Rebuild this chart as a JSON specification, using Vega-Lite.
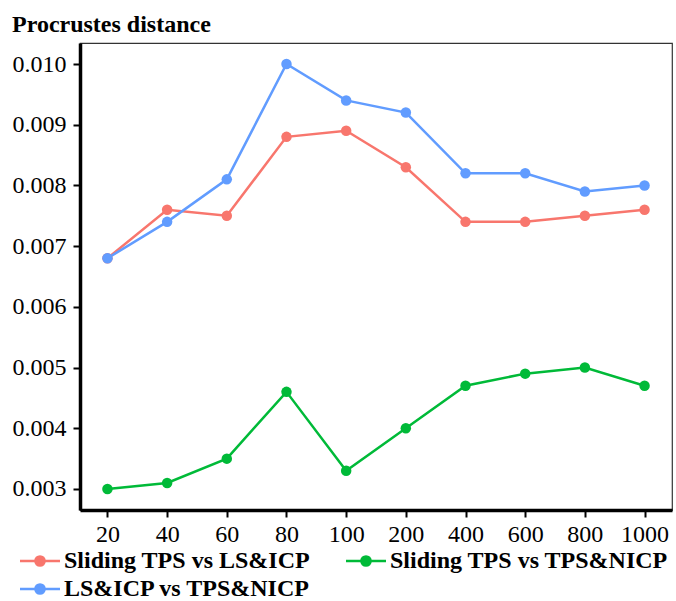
{
  "$schema": "https://vega.github.io/schema/vega-lite/v6.json",
  "width": 592,
  "height": 467,
  "autosize": "none",
  "padding": {"left": 80, "top": 43, "right": 4, "bottom": 91},
  "background": "white",
  "title": {
    "text": "Procrustes distance",
    "anchor": "start",
    "frame": "group",
    "dx": -68,
    "offset": 6,
    "font": "Liberation Serif",
    "fontSize": 24,
    "fontWeight": "bold",
    "color": "black"
  },
  "config": {
    "view": {"stroke": "#333333", "strokeWidth": 1.2},
    "axis": {
      "grid": false,
      "domainColor": "black",
      "domainWidth": 3.5,
      "tickColor": "black",
      "tickWidth": 2,
      "tickSize": 7,
      "labelFont": "Liberation Serif",
      "labelFontSize": 24,
      "labelColor": "black",
      "title": null
    }
  },
  "data": {
    "values": [
      {"n": "20", "s": "Sliding TPS vs LS&ICP", "v": 0.0068},
      {"n": "40", "s": "Sliding TPS vs LS&ICP", "v": 0.0076},
      {"n": "60", "s": "Sliding TPS vs LS&ICP", "v": 0.0075},
      {"n": "80", "s": "Sliding TPS vs LS&ICP", "v": 0.0088},
      {"n": "100", "s": "Sliding TPS vs LS&ICP", "v": 0.0089},
      {"n": "200", "s": "Sliding TPS vs LS&ICP", "v": 0.0083},
      {"n": "400", "s": "Sliding TPS vs LS&ICP", "v": 0.0074},
      {"n": "600", "s": "Sliding TPS vs LS&ICP", "v": 0.0074},
      {"n": "800", "s": "Sliding TPS vs LS&ICP", "v": 0.0075},
      {"n": "1000", "s": "Sliding TPS vs LS&ICP", "v": 0.0076},
      {"n": "20", "s": "LS&ICP vs TPS&NICP", "v": 0.0068},
      {"n": "40", "s": "LS&ICP vs TPS&NICP", "v": 0.0074},
      {"n": "60", "s": "LS&ICP vs TPS&NICP", "v": 0.0081},
      {"n": "80", "s": "LS&ICP vs TPS&NICP", "v": 0.0100},
      {"n": "100", "s": "LS&ICP vs TPS&NICP", "v": 0.0094},
      {"n": "200", "s": "LS&ICP vs TPS&NICP", "v": 0.0092},
      {"n": "400", "s": "LS&ICP vs TPS&NICP", "v": 0.0082},
      {"n": "600", "s": "LS&ICP vs TPS&NICP", "v": 0.0082},
      {"n": "800", "s": "LS&ICP vs TPS&NICP", "v": 0.0079},
      {"n": "1000", "s": "LS&ICP vs TPS&NICP", "v": 0.0080},
      {"n": "20", "s": "Sliding TPS vs TPS&NICP", "v": 0.0030},
      {"n": "40", "s": "Sliding TPS vs TPS&NICP", "v": 0.0031},
      {"n": "60", "s": "Sliding TPS vs TPS&NICP", "v": 0.0035},
      {"n": "80", "s": "Sliding TPS vs TPS&NICP", "v": 0.0046},
      {"n": "100", "s": "Sliding TPS vs TPS&NICP", "v": 0.0033},
      {"n": "200", "s": "Sliding TPS vs TPS&NICP", "v": 0.0040},
      {"n": "400", "s": "Sliding TPS vs TPS&NICP", "v": 0.0047},
      {"n": "600", "s": "Sliding TPS vs TPS&NICP", "v": 0.0049},
      {"n": "800", "s": "Sliding TPS vs TPS&NICP", "v": 0.0050},
      {"n": "1000", "s": "Sliding TPS vs TPS&NICP", "v": 0.0047}
    ]
  },
  "encoding": {
    "x": {
      "field": "n",
      "type": "ordinal",
      "sort": ["20", "40", "60", "80", "100", "200", "400", "600", "800", "1000"],
      "scale": {"type": "point", "padding": 0.46},
      "axis": {"labelAngle": 0, "labelPadding": 5}
    },
    "y": {
      "field": "v",
      "type": "quantitative",
      "scale": {"domain": [0.002654, 0.010346], "nice": false, "zero": false},
      "axis": {
        "values": [0.003, 0.004, 0.005, 0.006, 0.007, 0.008, 0.009, 0.010],
        "format": ".3f",
        "labelPadding": 7
      }
    },
    "color": {
      "field": "s",
      "type": "nominal",
      "scale": {
        "domain": ["Sliding TPS vs LS&ICP", "Sliding TPS vs TPS&NICP", "LS&ICP vs TPS&NICP"],
        "range": ["#F8766D", "#00BA38", "#619CFF"]
      },
      "legend": {
        "orient": "none",
        "legendX": -52,
        "legendY": 506,
        "direction": "horizontal",
        "columns": 2,
        "title": null,
        "padding": 0,
        "symbolType": "M-2,0L2,0M-0.46,0A0.46,0.46 0 1,1 0.46,0A0.46,0.46 0 1,1 -0.46,0Z",
        "symbolSize": 400,
        "symbolStrokeWidth": 2.5,
        "symbolOpacity": 1,
        "labelFont": "Liberation Serif",
        "labelFontSize": 24,
        "labelFontWeight": "bold",
        "labelColor": "black",
        "labelOffset": 12,
        "labelLimit": 400,
        "columnPadding": 30,
        "rowPadding": 4,
        "encode": {
          "symbols": {
            "update": {
              "fill": {"scale": "color", "field": "value"},
              "stroke": {"scale": "color", "field": "value"}
            }
          }
        }
      }
    }
  },
  "layer": [
    {"mark": {"type": "line", "strokeWidth": 2.5}},
    {"mark": {"type": "circle", "size": 110, "opacity": 1}}
  ]
}
